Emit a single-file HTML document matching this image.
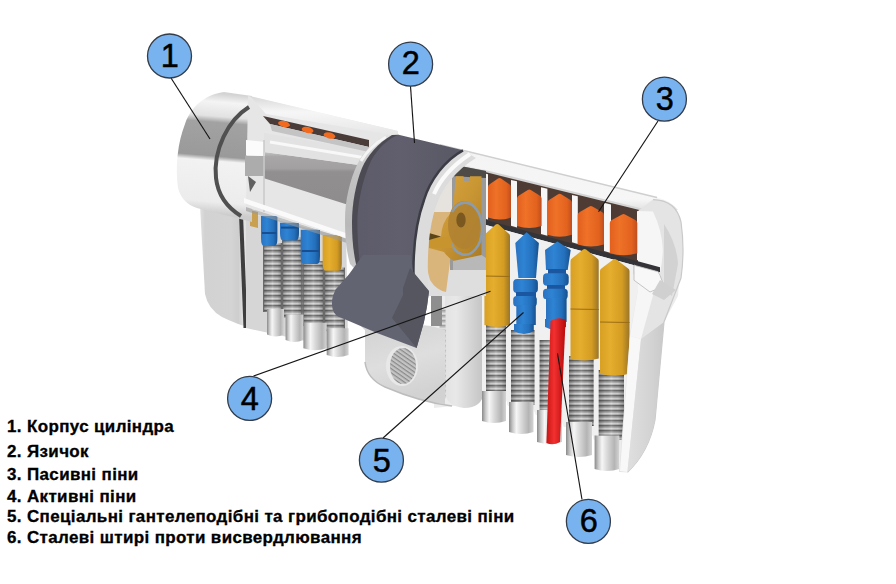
<!DOCTYPE html>
<html><head><meta charset="utf-8">
<style>
html,body{margin:0;padding:0;background:#fff;width:896px;height:584px;overflow:hidden;position:relative}
.t{position:absolute;left:6.5px;font-family:"Liberation Sans",sans-serif;font-weight:bold;font-size:16px;letter-spacing:0.35px;transform:scaleX(1.06);transform-origin:0 0;-webkit-text-stroke:0.3px #000;color:#000;white-space:nowrap;line-height:1}
svg{position:absolute;left:0;top:0}
.n{font-family:"Liberation Sans",sans-serif;font-size:32.5px;fill:#000;stroke:#000;stroke-width:0.5px;text-anchor:middle}
</style></head><body>
<svg width="896" height="584" viewBox="0 0 896 584">
<defs>
<linearGradient id="gHead" gradientUnits="userSpaceOnUse" x1="200" y1="92" x2="190" y2="212">
<stop offset="0" stop-color="#d4d4d4"/><stop offset="0.07" stop-color="#f4f4f4"/><stop offset="0.19" stop-color="#e2e2e2"/>
<stop offset="0.24" stop-color="#a2a2a2"/><stop offset="0.52" stop-color="#9a9a9a"/><stop offset="0.56" stop-color="#f2f2f2"/>
<stop offset="0.9" stop-color="#ececec"/><stop offset="1" stop-color="#cccccc"/>
</linearGradient>
<linearGradient id="gPlug" gradientUnits="userSpaceOnUse" x1="312" y1="134" x2="302" y2="232">
<stop offset="0" stop-color="#d8d8d8"/><stop offset="0.1" stop-color="#f6f6f6"/><stop offset="0.19" stop-color="#e8e8e8"/>
<stop offset="0.22" stop-color="#a8a8a8"/><stop offset="0.55" stop-color="#a0a0a0"/><stop offset="0.6" stop-color="#f0f0f0"/>
<stop offset="0.92" stop-color="#e6e6e6"/><stop offset="1" stop-color="#c4c4c4"/>
</linearGradient>
<linearGradient id="gShell" x1="0" y1="0" x2="0" y2="1">
<stop offset="0" stop-color="#d8d8d8"/><stop offset="0.15" stop-color="#f4f4f4"/><stop offset="0.8" stop-color="#f6f6f6"/><stop offset="1" stop-color="#dcdcdc"/>
</linearGradient>
<linearGradient id="gFoot" gradientUnits="userSpaceOnUse" x1="200" y1="0" x2="262" y2="0">
<stop offset="0" stop-color="#e0e0e0"/><stop offset="0.08" stop-color="#d2d2d2"/><stop offset="0.5" stop-color="#d4d4d4"/><stop offset="0.62" stop-color="#cecece"/><stop offset="0.7" stop-color="#e2e2e2"/><stop offset="1" stop-color="#dedede"/>
</linearGradient>
<linearGradient id="gCapH" x1="0" y1="0" x2="1" y2="0">
<stop offset="0" stop-color="#8a8a8a"/><stop offset="0.15" stop-color="#c8c8c8"/><stop offset="0.3" stop-color="#f6f6f6"/><stop offset="0.5" stop-color="#dadada"/><stop offset="0.8" stop-color="#b4b4b4"/><stop offset="1" stop-color="#d4d4d4"/>
</linearGradient>
<linearGradient id="gOr" x1="0" y1="0" x2="1" y2="0">
<stop offset="0" stop-color="#e2601e"/><stop offset="0.35" stop-color="#ef7228"/><stop offset="0.8" stop-color="#e2621e"/><stop offset="1" stop-color="#c04e20"/>
</linearGradient>
<linearGradient id="gYe" x1="0" y1="0" x2="1" y2="0">
<stop offset="0" stop-color="#d8a024"/><stop offset="0.35" stop-color="#e6ae2e"/><stop offset="0.75" stop-color="#d49c22"/><stop offset="1" stop-color="#9a7428"/>
</linearGradient>
<linearGradient id="gBl" x1="0" y1="0" x2="1" y2="0">
<stop offset="0" stop-color="#2a72c0"/><stop offset="0.35" stop-color="#2e84d4"/><stop offset="0.75" stop-color="#2470bc"/><stop offset="1" stop-color="#17508e"/>
</linearGradient>
<linearGradient id="gRed" x1="0" y1="0" x2="1" y2="0">
<stop offset="0" stop-color="#c81414"/><stop offset="0.4" stop-color="#f23030"/><stop offset="1" stop-color="#b80a0a"/>
</linearGradient>
<linearGradient id="gCam" gradientUnits="userSpaceOnUse" x1="350" y1="0" x2="450" y2="0">
<stop offset="0" stop-color="#5c5b69"/><stop offset="0.5" stop-color="#615f6d"/><stop offset="1" stop-color="#5a5966"/>
</linearGradient>
<linearGradient id="gGold" x1="0" y1="0" x2="1" y2="1">
<stop offset="0" stop-color="#dca744"/><stop offset="0.5" stop-color="#c99634"/><stop offset="1" stop-color="#a87a22"/>
</linearGradient>
<linearGradient id="gRBody" gradientUnits="userSpaceOnUse" x1="628" y1="0" x2="682" y2="0">
<stop offset="0" stop-color="#f6f6f6"/><stop offset="0.5" stop-color="#e4e4e4"/><stop offset="1" stop-color="#d4d4d4"/>
</linearGradient>
<linearGradient id="gTrans" gradientUnits="userSpaceOnUse" x1="432" y1="0" x2="492" y2="0">
<stop offset="0" stop-color="#dcdcdc"/><stop offset="0.4" stop-color="#e8e8e8"/><stop offset="1" stop-color="#b8b8b8"/>
</linearGradient>
<pattern id="pSpr" patternUnits="userSpaceOnUse" width="20" height="5">
<rect width="20" height="5" fill="#aeaeae"/><rect y="0" width="20" height="1.4" fill="#6e6e6e"/><rect y="1.4" width="20" height="0.8" fill="#909090"/><rect y="2.8" width="20" height="1.4" fill="#d6d6d6"/>
</pattern>
<linearGradient id="gSprEdge" x1="0" y1="0" x2="1" y2="0">
<stop offset="0" stop-color="#000" stop-opacity="0.3"/><stop offset="0.25" stop-color="#000" stop-opacity="0.05"/><stop offset="0.5" stop-color="#fff" stop-opacity="0.15"/><stop offset="0.75" stop-color="#000" stop-opacity="0.05"/><stop offset="1" stop-color="#000" stop-opacity="0.3"/>
</linearGradient>
<linearGradient id="gBand" x1="0" y1="0" x2="0" y2="1">
<stop offset="0" stop-color="#c4c4c4"/><stop offset="0.08" stop-color="#a8a6a6"/><stop offset="0.28" stop-color="#a2a0a0"/><stop offset="0.34" stop-color="#918f8f"/><stop offset="0.9" stop-color="#8e8c8c"/><stop offset="1" stop-color="#b4b4b4"/>
</linearGradient>
<linearGradient id="gTopB" x1="0" y1="0" x2="0" y2="1">
<stop offset="0" stop-color="#d8d8d8"/><stop offset="0.4" stop-color="#f6f6f6"/><stop offset="1" stop-color="#e6e6e6"/>
</linearGradient>
<linearGradient id="gSide" gradientUnits="userSpaceOnUse" x1="630" y1="0" x2="668" y2="0">
<stop offset="0" stop-color="#dedede"/><stop offset="0.6" stop-color="#d2d2d2"/><stop offset="1" stop-color="#c6c6c6"/>
</linearGradient>
<linearGradient id="gBridge" x1="0" y1="0" x2="0.3" y2="1">
<stop offset="0" stop-color="#cfcfcf"/><stop offset="0.6" stop-color="#dedede"/><stop offset="1" stop-color="#d2d2d2"/>
</linearGradient>
<pattern id="pScrew" patternUnits="userSpaceOnUse" width="3.5" height="3.5" patternTransform="rotate(35)">
<rect width="3.5" height="3.5" fill="#c4c4c4"/><rect width="3.5" height="1.2" fill="#8a8a8a"/>
</pattern>
<linearGradient id="gRim" gradientUnits="userSpaceOnUse" x1="0" y1="135" x2="0" y2="264">
<stop offset="0" stop-color="#e0e0e0"/><stop offset="0.3" stop-color="#c4c4c4"/><stop offset="0.7" stop-color="#b8b8b8"/><stop offset="1" stop-color="#c8c8c8"/>
</linearGradient>
</defs>
<path d="M430,146 L657,197.4 Q684,206 682,236 L678,296 L664,322 L655,420 Q649,452 627.4,472.3 L620,472 L619,440 L594,440 L590,427 L564,427 L560,415 L536,415 L532,406 L508,406 L505,395 L482,395 L472,404 L434,408 Z" fill="#ececec"/>
<path d="M445,262 L484,262 L484,392 Q482,408 464,408 Q446,406 445,392 Z" fill="url(#gTrans)"/>
<rect x="439.5" y="309" width="6" height="90" fill="url(#pSpr)" opacity="0.6"/>
<rect x="431" y="287" width="11" height="39" fill="#8e8e8e"/>
<path d="M478,169.2 L655,212.8 L655,269.9 L478,221.8 Z" fill="#4e3c34"/>
<polygon points="482,172.7 488,174.2 488,219.5 482,217.9" fill="#f6f6f6"/>
<polygon points="511,179.9 517,181.3 517,227.4 511,225.8" fill="#f6f6f6"/>
<polygon points="541,187.2 547.4,188.8 547.4,235.7 541,233.9" fill="#f6f6f6"/>
<polygon points="572,194.9 577.8,196.3 577.8,243.9 572,242.3" fill="#f6f6f6"/>
<polygon points="604,202.7 611,204.5 611,253.0 604,251.0" fill="#f6f6f6"/>
<polygon points="637,210.9 655,215.3 655,264.9 637,260.0" fill="#f6f6f6"/>
<path d="M478,217.8 L658,266.7 L658,271.7 L478,222.8 Z" fill="#343438"/>
<path d="M482,223.9 L648,269.0 L640,440 L619,440 L594,440 L590,427 L564,427 L560,415 L536,415 L532,406 L508,406 L505,395 L482,395 Z" fill="#f0f0f0"/>
<path d="M634,265.2 L658,271.7 L660,283.3 L634,274.2 Z" fill="#f4f4f4" stroke="#c8c8c8" stroke-width="0.8"/>
<rect x="486" y="322" width="20" height="73" fill="url(#pSpr)"/>
<rect x="486" y="322" width="20" height="73" fill="url(#gSprEdge)"/>
<rect x="511" y="330" width="23.5" height="75" fill="url(#pSpr)"/>
<rect x="511" y="330" width="23.5" height="75" fill="url(#gSprEdge)"/>
<rect x="539.6" y="340" width="20.399999999999977" height="74" fill="url(#pSpr)"/>
<rect x="539.6" y="340" width="20.399999999999977" height="74" fill="url(#gSprEdge)"/>
<rect x="569" y="356" width="24.600000000000023" height="70" fill="url(#pSpr)"/>
<rect x="569" y="356" width="24.600000000000023" height="70" fill="url(#gSprEdge)"/>
<rect x="598.7" y="370" width="25.299999999999955" height="70" fill="url(#pSpr)"/>
<rect x="598.7" y="370" width="25.299999999999955" height="70" fill="url(#gSprEdge)"/>
<path d="M482,391 L506,391 L506,421 Q494.0,425 482,421 Z" fill="url(#gCapH)"/>
<path d="M509,402 L533.5,402 L533.5,432 Q521.25,436 509,432 Z" fill="url(#gCapH)"/>
<path d="M537,410 L562,410 L562,442 Q549.5,446 537,442 Z" fill="url(#gCapH)"/>
<path d="M566,422 L592,422 L592,455 Q579.0,459 566,455 Z" fill="url(#gCapH)"/>
<path d="M594.6,435.5 L619.3,435.5 L619.3,469 Q606.95,473 594.6,469 Z" fill="url(#gCapH)"/>
<path d="M488,187 Q488,185 490,184 L498.0,178.5 Q499.5,177.5 501.0,178.5 L509,184 Q511,185 511,187 L511,217.6 Q499.5,221.6 488,217.6 Z" fill="url(#gOr)"/>
<path d="M484.4,236 Q484.4,234 486.4,233 L495.7,224.5 Q497.2,223.5 498.7,224.5 L508,233 Q510,234 510,236 L510,325 Q497.2,329 484.4,325 Z" fill="url(#gYe)"/>
<line x1="484.4" y1="276" x2="510" y2="276.5" stroke="#9a6c14" stroke-width="1"/>
<path d="M517,198.5 Q517,196.5 519,195.5 L527.8,190.0 Q529.3,189.0 530.8,190.0 L539.6,195.5 Q541.6,196.5 541.6,198.5 L541.6,226 Q529.3,230 517,226 Z" fill="url(#gOr)"/>
<path d="M515.3,243 L526.6,232.2 L538.9,243 L536,278 L518.4,278 Z" fill="url(#gBl)"/>
<rect x="513.2" y="279" width="24.7" height="14" rx="4" fill="url(#gBl)"/>
<rect x="516" y="292" width="20" height="5" fill="#1b56a0"/>
<rect x="513.2" y="296" width="23.6" height="10.5" rx="3.5" fill="url(#gBl)"/>
<rect x="516.3" y="305" width="19.5" height="20" fill="url(#gBl)"/>
<path d="M514,324 L533.8,324 L533.8,331 Q524,337 514,331 Z" fill="url(#gBl)"/>
<path d="M547.4,202.8 Q547.4,200.8 549.4,199.8 L558.2,194.3 Q559.7,193.3 561.2,194.3 L570,199.8 Q572,200.8 572,202.8 L572,234.8 Q559.7,238.8 547.4,234.8 Z" fill="url(#gOr)"/>
<path d="M545,250 L557.4,241.4 L570.7,250 L567.7,270 L546,270 Z" fill="url(#gBl)"/>
<rect x="548" y="269" width="18" height="5" fill="#1b56a0"/>
<rect x="543" y="273.3" width="25.7" height="12.5" rx="4" fill="url(#gBl)"/>
<rect x="547" y="285" width="18" height="4" fill="#1b56a0"/>
<rect x="543" y="288.7" width="24.7" height="10.5" rx="3.5" fill="url(#gBl)"/>
<rect x="546" y="298" width="20.6" height="24" fill="url(#gBl)"/>
<path d="M545,319 L566,319 L566,327 Q556,333 545,327 Z" fill="url(#gBl)"/>
<path d="M577.8,215 Q577.8,213 579.8,212 L589.4,206.5 Q590.9,205.5 592.4,206.5 L602,212 Q604,213 604,215 L604,244.6 Q590.9,248.6 577.8,244.6 Z" fill="url(#gOr)"/>
<path d="M570.5,261 Q570.5,259 572.5,258 L583.1,249.5 Q584.6,248.5 586.1,249.5 L596.7,258 Q598.7,259 598.7,261 L598.7,358.4 Q584.6,362.4 570.5,358.4 Z" fill="url(#gYe)"/>
<line x1="570.5" y1="309" x2="598.7" y2="309.5" stroke="#9a6c14" stroke-width="1"/>
<path d="M609.8,223 Q609.8,221 611.8,220 L622.05,214.5 Q623.55,213.5 625.05,214.5 L635.3,220 Q637.3,221 637.3,223 L637.3,253.2 Q623.55,257.2 609.8,253.2 Z" fill="url(#gOr)"/>
<path d="M600,271 Q600,269 602,268 L613.25,259.5 Q614.75,258.5 616.25,259.5 L627.5,268 Q629.5,269 629.5,271 L629.5,373.8 Q614.75,377.8 600,373.8 Z" fill="url(#gYe)"/>
<line x1="600" y1="322" x2="629.5" y2="322.5" stroke="#9a6c14" stroke-width="1"/>
<path d="M550.5,321 Q558,316 565.6,320 L560,442 Q553,446 546.4,443 Z" fill="url(#gRed)"/>
<path d="M440,144.7 L657,197.4 Q670,200 678,210 L655,212.8 L483.5,170.6 L440,156.9 Z" fill="url(#gShell)"/>
<path d="M440,144.7 L657,197.4" stroke="#cfcfcf" stroke-width="1.5" fill="none"/>
<path d="M483.5,170.6 L655,212.8" stroke="#d4d4d4" stroke-width="2" fill="none"/>
<path d="M653,199.6 Q676,200 681,222 Q685,250 681,278 L664,322 L655,420 Q649,452 627.4,472.3 L619,472 L630,334 L638,290 L638,211 Z" fill="#e4e4e4"/>
<path d="M653,199.6 Q676,200 681,222 Q685,250 681,278 L664,322 L655,420 Q649,452 627.4,472.3" fill="none" stroke="#cacaca" stroke-width="1.2"/>
<path d="M653,211.6 Q662,230 662.8,250 Q662,272 655.6,286 L641,339 L630,336 L638,290 L638,211 Z" fill="#f6f6f6"/>
<path d="M636,260.8 L660,267.3 L660,272.3 L636,265.8 Z" fill="#343438"/>
<path d="M664,224 Q677,244 678,264 L672,296 L664,290 Z" fill="#d2d2d2"/>
<path d="M634,265.2 L658,271.7 L660,275.3 L664,286 L650,292 L634,280.2 Z" fill="#f8f8f8" stroke="#b8b8b8" stroke-width="0.8"/>
<path d="M660,280 L676,290 L664,300 L652,294 Z" fill="#d0d0d0"/>
<path d="M630,336 L641,339 L627.4,472 L620,471 Z" fill="#f8f8f8"/>
<path d="M641,339 L664,322 L655,420 Q649,452 627.4,472.3 Z" fill="url(#gSide)"/>
<path d="M420,160 L486,170 L486,296 L420,296 Z" fill="#dedede"/>
<path d="M450,164 L486,171 L486,270 L450,270 Z" fill="#9a9a9a"/>
<path d="M450,164 L486,171 L486,178 L450,176 Z" fill="#4e4a48"/>
<path d="M425,212 L453,212 L450,262 L446,292 Q436,290 430,280 Q424,262 425,212 Z" fill="#d8b070" opacity="0.9"/>
<path d="M427,168 L452,174 L452,212 L427,212 Z" fill="#e6e2de"/>
<ellipse cx="433" cy="197" rx="5" ry="9" fill="#f07a3a" opacity="0.6"/>
<path d="M456,176.3 L463.6,176.3 L463.6,181 L470,181 L470,176.3 L481.5,176.3 L481.5,255 Q476,263 468,264.7 Q452,264 444,252 L429,248 L429,236.5 L441,236.5 Q442,222 450,214 L453.2,205 Z" fill="url(#gGold)"/>
<ellipse cx="464" cy="225" rx="16" ry="24" fill="#b08232" opacity="0.9"/>
<path d="M452,212 A17,26 0 1,1 450.5,242" fill="none" stroke="#8c9cac" stroke-width="2.6"/>
<ellipse cx="461" cy="220" rx="4.7" ry="7.5" fill="#7a5820"/>
<path d="M429,236.5 L450,238 L453,248 L429,248 Z" fill="#c8942e"/>
<path d="M429,233 L441,236.5 L429,240 Z" fill="#5a4418"/>
<path d="M453,261 L481.5,255 L486,258 L486,270 L453,270 Z" fill="#b8b8b8"/>
<path d="M200,206 L346,238 L348,350 L254,329 Q236,324 222,317 Q208,309 205,294 Z" fill="url(#gFoot)"/>
<path d="M241,214 L245.5,328" stroke="#3e3e3e" stroke-width="4" fill="none"/>
<path d="M246,212 L346,238 L348,350 L246,328 Z" fill="#d6d6d6"/>
<rect x="263" y="243" width="19" height="69" fill="url(#pSpr)"/>
<rect x="263" y="243" width="19" height="69" fill="url(#gSprEdge)"/>
<path d="M263.6,243 L263.6,312 M281.4,243 L281.4,312" stroke="#6a6a6a" stroke-width="1.2"/>
<rect x="282" y="237.6" width="20.5" height="80.00000000000003" fill="url(#pSpr)"/>
<rect x="282" y="237.6" width="20.5" height="80.00000000000003" fill="url(#gSprEdge)"/>
<path d="M282.6,237.6 L282.6,317.6 M301.9,237.6 L301.9,317.6" stroke="#6a6a6a" stroke-width="1.2"/>
<rect x="302.5" y="261" width="21.5" height="64.80000000000001" fill="url(#pSpr)"/>
<rect x="302.5" y="261" width="21.5" height="64.80000000000001" fill="url(#gSprEdge)"/>
<path d="M303.1,261 L303.1,325.8 M323.4,261 L323.4,325.8" stroke="#6a6a6a" stroke-width="1.2"/>
<rect x="324" y="267.7" width="21" height="63.60000000000002" fill="url(#pSpr)"/>
<rect x="324" y="267.7" width="21" height="63.60000000000002" fill="url(#gSprEdge)"/>
<path d="M324.6,267.7 L324.6,331.3 M344.4,267.7 L344.4,331.3" stroke="#6a6a6a" stroke-width="1.2"/>
<path d="M267,309 L284,309 L284,334.5 Q275.5,338.5 267,334.5 Z" fill="url(#gCapH)"/>
<path d="M285.6,314.6 L303.4,314.6 L303.4,340 Q294.5,344 285.6,340 Z" fill="url(#gCapH)"/>
<path d="M303.4,322.8 L326.7,322.8 L326.7,348.2 Q315.04999999999995,352.2 303.4,348.2 Z" fill="url(#gCapH)"/>
<path d="M326.7,328.3 L348.6,328.3 L348.6,355 Q337.65,359 326.7,355 Z" fill="url(#gCapH)"/>
<path d="M261,216 L277.4,216 L277.4,238 Q277.4,246 274.4,246 L264,246 Q261,246 261,238 Z" fill="url(#gBl)"/>
<rect x="262" y="232" width="14.399999999999977" height="2" fill="#184e90"/>
<path d="M280,222.8 L299,222.8 L299,232.6 Q299,240.6 296,240.6 L283,240.6 Q280,240.6 280,232.6 Z" fill="url(#gBl)"/>
<rect x="281" y="226.6" width="17" height="2" fill="#184e90"/>
<path d="M300.7,229.7 L320,229.7 L320,256 Q320,264 317,264 L303.7,264 Q300.7,264 300.7,256 Z" fill="url(#gBl)"/>
<rect x="301.7" y="250" width="17.30000000000001" height="2" fill="#184e90"/>
<path d="M322.6,235 L341.8,235 L341.8,262.7 Q341.8,270.7 338.8,270.7 L325.6,270.7 Q322.6,270.7 322.6,262.7 Z" fill="url(#gYe)"/>
<path d="M250,210 L258,212 L258,228 L250,226 Z" fill="#c8a050"/>
<path d="M252,96 L224,92 C208,94 192,104 185,124 C178,142 175,165 178,188 C181,200 190,207 201,209 L252,222 Z" fill="url(#gHead)"/>
<path d="M248,96 L398,131 L400,255 L246,207 Z" fill="#e6e6e6"/>
<path d="M264,152 L366,166 L366,210.5 L264,178.3 Z" fill="url(#gBand)"/>
<path d="M245,155.6 L265,156 L265,176 L245,176 Z" fill="#acacac"/>
<path d="M246,140 L265,142 L265,156 L246,155.6 Z" fill="#fbfbfb"/>
<path d="M264,133 L366,150 L366,166 L264,152 Z" fill="#e2e2e2"/>
<path d="M270,142 L366,158" stroke="#f8f8f8" stroke-width="3"/>
<path d="M264,140 L264,212" stroke="#c8c8c8" stroke-width="1.5"/>
<path d="M244,198 L366,240 L366,245 L244,203 Z" fill="#fafafa"/>
<path d="M246,207 L366,245 L366,249 L246,211 Z" fill="#9a9a9a" opacity="0.6"/>
<path d="M250,96 L398,131 L398,136 L266,114 Z" fill="url(#gTopB)"/>
<path d="M263,116 L369,140 L369,147 L270,124 Z" fill="#4a3c38"/>
<path d="M270,124 L369,147 L369,152 L272,131 Z" fill="#c4c4c4"/>
<ellipse cx="284" cy="124" rx="6" ry="3" fill="#f26a1e" transform="rotate(13 284 124)"/>
<ellipse cx="307.6" cy="130" rx="6" ry="3" fill="#f26a1e" transform="rotate(13 307.6 130)"/>
<ellipse cx="329.5" cy="135.5" rx="6" ry="3" fill="#f26a1e" transform="rotate(13 329.5 135.5)"/>
<path d="M248,176 L256,182 L250,192 Z" fill="#606060"/>
<path d="M249,107 C228,120 213,150 216,178 C218,196 228,208 241,216" stroke="#505050" stroke-width="4" fill="none"/>
<path d="M352,318 L431,326 L445,330 L445,404 Q420,402 385,387 Q367,379 365,362 L365,330 Z" fill="url(#gBridge)"/>
<path d="M365,362 Q367,379 385,387 Q420,402 452,406" fill="none" stroke="#bdbdbd" stroke-width="1.5"/>
<ellipse cx="402" cy="366" rx="16" ry="20" fill="#e8e8e8"/>
<ellipse cx="403" cy="366" rx="13" ry="18" fill="url(#pScrew)"/>
<path d="M384.9,135.5 C372,143 363,152 357,165 C350,180 345,200 345,220 C345,236 346,250 350,264 L362,276 C359,262 357.4,240 357.4,222 C357.5,205 362,180 371,161 C378,148 388,139 398.6,134.8 Z" fill="url(#gRim)"/>
<path d="M386,137 C375,143 367,151 361,161" fill="none" stroke="#f4f4f4" stroke-width="3"/>
<path d="M392,135 C378,143 367,156 362,168 C356,183 352,203 352,222 C352,238 353,250 356,264 L362,276 L380,270 L400,140 L398.6,134.8 Z" fill="#4c4b53"/>
<path d="M463,150.3 C445,160 430,180 424,200 C416,222 413,245 413.5,290 L428,290 C427,250 429,228 436,206 C442,188 456,170 476,158 Z" fill="#dcdcdc"/>
<path d="M470,154 C452,166 440,180 434,194" fill="none" stroke="#fafafa" stroke-width="4"/>
<path d="M398.6,134.8 L463,150.3 C445,160 430,180 424,200 C416,222 413,245 413.5,276 L362,276 C359,262 357.4,240 357.4,222 C357.5,205 362,180 371,161 C378,148 388,139 398.6,134.8 Z" fill="url(#gCam)"/>
<path d="M463,150.3 C445,160 430,180 424,200 C416,222 413,245 413.5,276" fill="none" stroke="#3c3d44" stroke-width="2.5"/>
<path d="M363,255 L348.8,274.5 L335.6,289.5 Q330,300 332.8,310 Q335,316 341.3,317.8 L377,333 L416.6,348 L424,321.6 L427,306.5 L429,291.4 L413,272.6 L411,255 Z" fill="#636472"/>
<path d="M410,268 L429,291 L427,306 L424,322 L416.6,348 L392,318 L403,295 L403,288 Z" fill="#55565f"/>

<g stroke="#151515" stroke-width="1.15" fill="none">
<line x1="171" y1="78" x2="210" y2="139"/>
<line x1="410.5" y1="86" x2="414.5" y2="143"/>
<line x1="658" y1="121" x2="598.5" y2="211.7"/>
<line x1="253.5" y1="376" x2="490.5" y2="291.2"/>
<line x1="383" y1="438" x2="523.5" y2="312.5"/>
<line x1="582" y1="499.5" x2="557.5" y2="353.5"/>
</g>

<circle cx="169.5" cy="56" r="22" fill="#79b3ef" stroke="#333c48" stroke-width="1.3"/><text class="n" x="169.8" y="67.2">1</text><circle cx="410.6" cy="64.2" r="22" fill="#79b3ef" stroke="#333c48" stroke-width="1.3"/><text class="n" x="410.90000000000003" y="74.0">2</text><circle cx="664.4" cy="99.2" r="22" fill="#79b3ef" stroke="#333c48" stroke-width="1.3"/><text class="n" x="664.6999999999999" y="110.4">3</text><circle cx="249.6" cy="398.4" r="22" fill="#79b3ef" stroke="#333c48" stroke-width="1.3"/><text class="n" x="249.9" y="409.59999999999997">4</text><circle cx="381.4" cy="460.2" r="22" fill="#79b3ef" stroke="#333c48" stroke-width="1.3"/><text class="n" x="381.7" y="472.2">5</text><circle cx="588.4" cy="521.4" r="22" fill="#79b3ef" stroke="#333c48" stroke-width="1.3"/><text class="n" x="588.6999999999999" y="531.6">6</text>
</svg>
<div class="t" style="top:418.9px">1. Корпус циліндра</div>
<div class="t" style="top:443.5px">2. Язичок</div>
<div class="t" style="top:466.7px">3. Пасивні піни</div>
<div class="t" style="top:488.5px">4. Активні піни</div>
<div class="t" style="top:509.3px">5. Спеціальні гантелеподібні та грибоподібні сталеві піни</div>
<div class="t" style="top:530.1px">6. Сталеві штирі проти висвердлювання</div>
</body></html>
